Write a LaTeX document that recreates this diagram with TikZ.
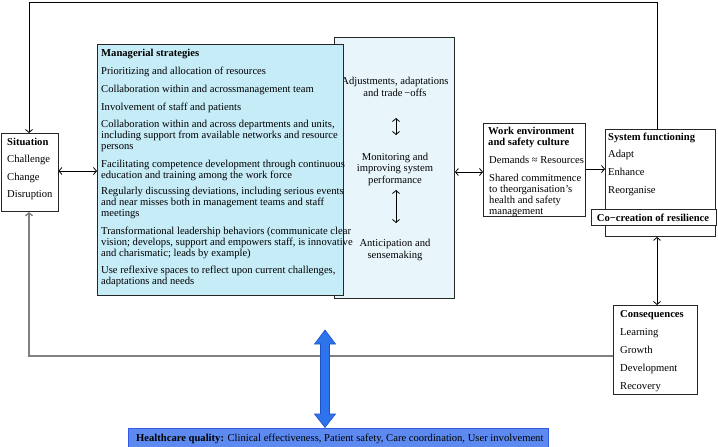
\documentclass[tikz,border=0pt]{standalone}
\usepackage{fontspec}
\setmainfont{Liberation Serif}
\usetikzlibrary{arrows.meta,shadows}
\definecolor{msfill}{RGB}{198,236,248}
\definecolor{backfill}{RGB}{232,246,252}
\definecolor{hqfill}{RGB}{92,138,240}
\definecolor{hqdraw}{RGB}{50,90,230}
\definecolor{bigblue}{RGB}{45,115,235}
\definecolor{bigdraw}{RGB}{30,80,200}
\definecolor{loopgray}{RGB}{128,128,128}
\begin{document}
\begin{tikzpicture}[x=1pt,y=-1pt,
  box/.style={draw=black!85, line width=0.9pt, inner sep=0pt, anchor=north west, fill=white,
    drop shadow={shadow xshift=1pt, shadow yshift=-1pt, opacity=0.45}},
  txt/.style={inner sep=0pt, anchor=base west, font=\fontsize{10.6}{11.3}\selectfont, align=left},
  ctxt/.style={inner sep=0pt, anchor=base, font=\fontsize{10.6}{11.5}\selectfont, align=center},
  con/.style={draw=black, line width=0.8pt},
  graycon/.style={draw=loopgray, line width=1.4pt},
  >={Straight Barb[length=3pt,width=7pt]}]
\useasboundingbox (0,0) rectangle (718,447);

% ---- Situation
\node[box, minimum width=57pt, minimum height=78pt] (sit) at (0.5,133) {};
\node[txt] (sit0) at (7,145) {\textbf{Situation}};
\node[txt] (sit1) at (7,162) {Challenge};
\node[txt] (sit2) at (7,180) {Change};
\node[txt] (sit3) at (7,197) {Disruption};

% ---- back box
\node[box, fill=backfill, minimum width=120pt, minimum height=261pt] (back) at (334,37) {};
\node[ctxt] (adj) at (395,96) {Adjustments, adaptations\\and trade\,−offs};
\node[ctxt] (mon) at (395,183) {Monitoring and\\improving system\\performance};
\node[ctxt] (ant) at (395,258) {Anticipation and\\sensemaking};
\coordinate (a1t) at (396,118);
\coordinate (a1b) at (396,135);
\coordinate (a2t) at (396,190);
\coordinate (a2b) at (396,223);
\draw[con,<->] (a1t) -- (a1b);
\draw[con,<->] (a2t) -- (a2b);

% ---- Managerial strategies
\node[box, fill=msfill, minimum width=246pt, minimum height=251pt] (ms) at (97,44) {};
\node[txt] (ms0) at (101,56) {\textbf{Managerial strategies}};
\node[txt] (ms1) at (101,74) {Prioritizing and allocation of resources};
\node[txt] (ms2) at (101,92) {Collaboration within and acrossmanagement team};
\node[txt] (ms3) at (101,110) {Involvement of staff and patients};
\node[txt] (ms4) at (101,149.6) {Collaboration within and across departments and units,\\including support from available networks and resource\\persons};
\node[txt] (ms5) at (101,178.3) {Facilitating competence development through continuous\\education and training among the work force};
\node[txt] (ms6) at (101,216.6) {Regularly discussing deviations, including serious events\\and near misses both in management teams and staff\\meetings};
\node[txt] (ms7) at (101,256.6) {Transformational leadership behaviors (communicate clear\\vision; develops, support and empowers staff, is innovative\\and charismatic; leads by example)};
\node[txt] (ms8) at (101,284.3) {Use reflexive spaces to reflect upon current challenges,\\adaptations and needs};

% ---- Work environment
\node[box, minimum width=102pt, minimum height=93pt] (we) at (483,123) {};
\node[txt] (we0) at (488,145.3) {\textbf{Work environment}\\\textbf{and safety culture}};
\node[txt] (we1) at (489,163) {Demands ≈ Resources};
\node[txt] (we2) at (489,214.9) {Shared commitmence\\to theorganisation’s\\health and safety\\management};

% ---- System functioning
\node[box, minimum width=110pt, minimum height=107pt] (sf) at (605,129) {};
\node[txt] (sf0) at (608,140) {\textbf{System functioning}};
\node[txt] (sf1) at (608,157) {Adapt};
\node[txt] (sf2) at (608,175) {Enhance};
\node[txt] (sf3) at (608,193) {Reorganise};
\node[box, minimum width=125pt, minimum height=16pt] (cc) at (591,209) {};
\node[ctxt] (cct) at (653,221) {\textbf{Co−creation of resilience}};

% ---- Consequences
\node[box, minimum width=84pt, minimum height=89pt] (cq) at (613,305) {};
\node[txt] (cq0) at (620,317) {\textbf{Consequences}};
\node[txt] (cq1) at (620,335) {Learning};
\node[txt] (cq2) at (620,353) {Growth};
\node[txt] (cq3) at (620,371) {Development};
\node[txt] (cq4) at (620,389) {Recovery};

% ---- Healthcare quality
\node[draw=hqdraw, fill=hqfill, line width=0.9pt, inner sep=0pt, anchor=north west,
  minimum width=420pt, minimum height=19pt] (hq) at (128,428) {};
\node[txt] (hqt) at (136,441) {\textbf{Healthcare quality:} Clinical effectiveness, Patient safety, Care coordination, User involvement};

% ---- connectors
\draw[con,<->] (sit.east |- 0,171) -- (ms.west |- 0,171);
\draw[con,<->] (back.east |- 0,172) -- (we.west |- 0,172);
\draw[con,->] (we.east |- 0,169) -- (sf.west |- 0,169);
\draw[con,<->] (sf.south -| 657,0) -- (cq.north -| 657,0);
\draw[con,->] (sf.north -| 657,0) -- (657,2) -- (29,2) -- (sit.north -| 29,0);
\draw[graycon,->] (cq.west |- 0,356) -- (29,356) -- (sit.south -| 29,0);

% ---- big blue double arrow
\coordinate (bt) at (325,330);
\filldraw[fill=bigblue, draw=bigdraw, line width=0.6pt]
  (bt) -- (335.5,344) -- (329.5,344) -- (329.5,414) -- (335.5,414) -- (325,427.5)
  -- (314.5,414) -- (320.5,414) -- (320.5,344) -- (314.5,344) -- cycle;
\end{tikzpicture}
\end{document}
